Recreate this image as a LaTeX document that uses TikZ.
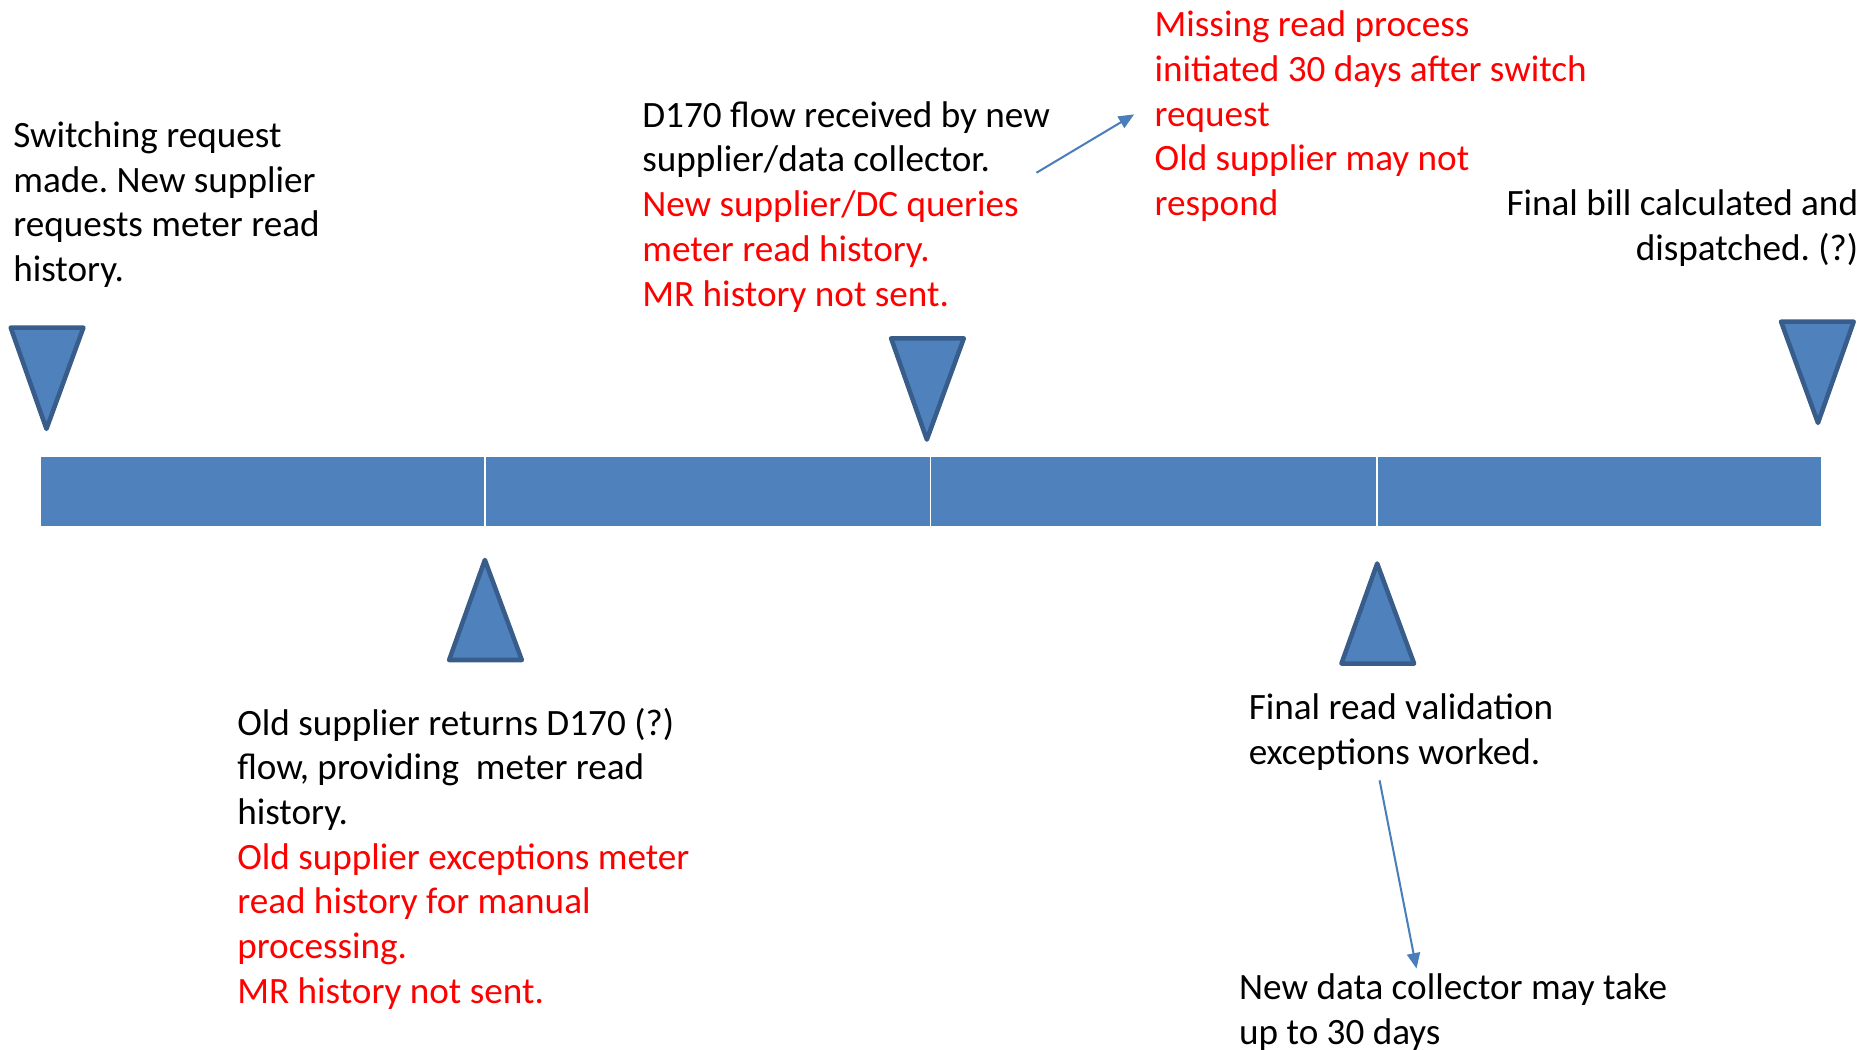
\documentclass[tikz,border=0pt]{standalone}
\usepackage{fontspec}
\setmainfont{Carlito}
\frenchspacing
\usetikzlibrary{arrows.meta}
\definecolor{barblue}{HTML}{4F81BD}
\definecolor{edgeblue}{HTML}{385D8A}
\definecolor{arrblue}{HTML}{4A7EBB}
\definecolor{txtred}{HTML}{FF0000}
\newcommand{\rl}[1]{\textcolor{txtred}{#1}}
\begin{document}
\begin{tikzpicture}[x=1pt,y=-1pt,
  seg/.style={fill=barblue,draw=white,line width=1.4pt},
  tri/.style={fill=barblue,draw=edgeblue,line width=3.8pt,line join=round},
  lbl/.style={inner sep=0pt,align=left,font=\fontsize{31.2}{37.5}\selectfont},
  conn/.style={draw=arrblue,line width=1.7pt,-{Triangle[length=13pt,width=11pt]}}]
\useasboundingbox (0,0) rectangle (1568,881);
% timeline bar
\path[seg] (34,383) rectangle (407,442);
\path[seg] (407,383) rectangle (781,442);
\path[seg] (781,383) rectangle (1156,442);
\path[seg] (1156,383) rectangle (1529,442);
% markers
\path[tri] (9,275) -- (70,275) -- (39,360) -- cycle;
\path[tri] (748,284) -- (809,284) -- (778,369) -- cycle;
\path[tri] (1495,270) -- (1556,270) -- (1526,355) -- cycle;
\path[tri] (407,470) -- (438,554) -- (377,554) -- cycle;
\path[tri] (1156,473) -- (1187,557) -- (1126,557) -- cycle;
% labels
\node[lbl,anchor=north west] (t1) at (11,102) {Switching request\\made. New supplier\\requests meter read\\history.};
\node[lbl,anchor=north west] (t2) at (539,85) {D170 flow received by new\\supplier/data collector.\\\rl{New supplier/DC queries}\\\rl{meter read history.}\\\rl{MR history not sent.}};
\node[lbl,anchor=north west] (t3) at (969,9) {\rl{Missing read process}\\\rl{initiated 30 days after switch}\\\rl{request}\\\rl{Old supplier may not}\\\rl{respond}};
\node[lbl,align=right,anchor=north east] (t4) at (1560,159) {Final bill calculated and\\dispatched. (?)};
\node[lbl,anchor=north west] (t5) at (199,594) {Old supplier returns D170 (?)\\flow, providing\ \ meter read\\history.\\\rl{Old supplier exceptions meter}\\\rl{read history for manual}\\\rl{processing.}\\\rl{MR history not sent.}};
\node[lbl,anchor=north west] (t6) at (1048,582) {Final read validation\\exceptions worked.};
\node[lbl,anchor=north west] (t7) at (1040,817) {New data collector may take\\up to 30 days};
% connectors
\coordinate (a1s) at (870,145);
\coordinate (a1e) at (952,96);
\coordinate (a2s) at (1158,655);
\coordinate (a2e) at (1189,813);
\draw[conn] (a1s) -- (a1e);
\draw[conn] (a2s) -- (a2e);
\end{tikzpicture}
\end{document}
